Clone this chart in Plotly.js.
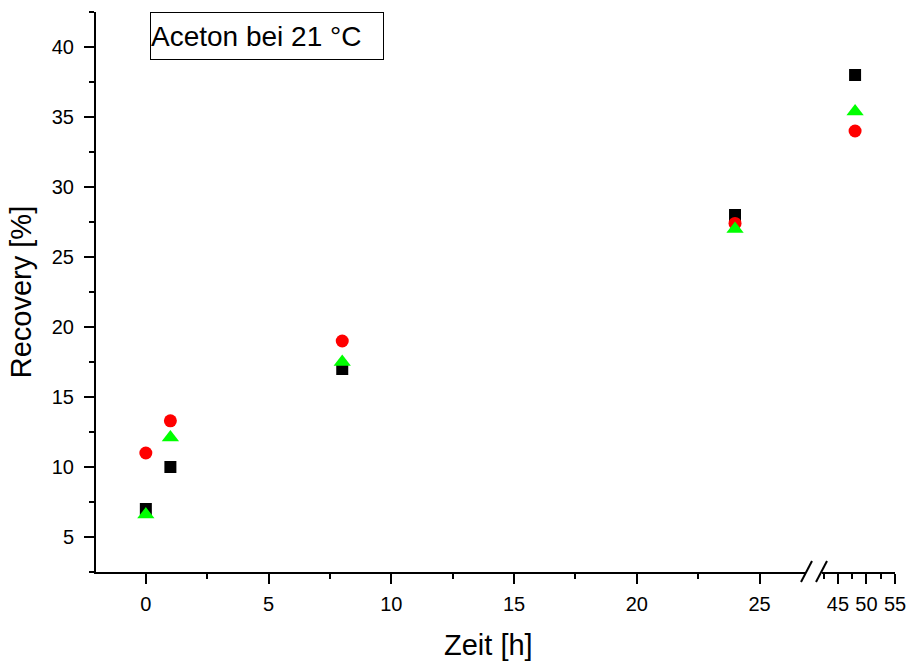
<!DOCTYPE html>
<html>
<head>
<meta charset="utf-8">
<script src="https://cdn.plot.ly/plotly-3.0.1.min.js"></script>
<style>html,body{margin:0;padding:0;background:#fff;}#chart{width:910px;height:662px;}</style>
</head>
<body>
<div id="chart"></div>
<script>
// Data
const timeH = [0, 1, 8, 24, 48];
const seriesBlack = [7.0, 10.0, 17.0, 28.0, 38.0];
const seriesRed = [11.0, 13.3, 19.0, 27.4, 34.0];
const seriesGreen = [6.6, 12.1, 17.5, 27.0, 35.4];
const xTicksLeft = [0, 5, 10, 15, 20, 25];
const xTicksRight = [45, 50, 55];
const yTicks = [5, 10, 15, 20, 25, 30, 35, 40];
const boxLabel = 'Aceton bei 21 °C';
const xTitle = 'Zeit [h]';
const yTitle = 'Recovery [%]';
const BREAK = 35;

const FONT = 'Arial, "Liberation Sans", sans-serif';
const series = [
  {y: seriesBlack, color: '#000000', symbol: 'square', size: 12},
  {y: seriesRed, color: '#ff0000', symbol: 'circle', size: 13},
  {y: seriesGreen, color: '#00ff00', symbol: 'triangle-up', size: 15}
];

const traces = [];
series.forEach(s => {
  const lx = [], ly = [], rx = [], ry = [];
  timeH.forEach((t, i) => {
    if (t < BREAK) { lx.push(t); ly.push(s.y[i]); } else { rx.push(t); ry.push(s.y[i]); }
  });
  const marker = {color: s.color, symbol: s.symbol, size: s.size, line: {width: 0}};
  traces.push({x: lx, y: ly, type: 'scatter', mode: 'markers', marker: marker, xaxis: 'x', yaxis: 'y', showlegend: false, cliponaxis: false});
  traces.push({x: rx, y: ry, type: 'scatter', mode: 'markers', marker: marker, xaxis: 'x2', yaxis: 'y', showlegend: false, cliponaxis: false});
});

const axisCommon = {
  showgrid: false, zeroline: false, showline: true, linecolor: '#000', linewidth: 2,
  ticks: 'outside', ticklen: 10, tickwidth: 2, tickcolor: '#000',
  tickfont: {family: FONT, size: 20, color: '#000'},
  fixedrange: true
};
const minorCommon = {dtick: 2.5, tick0: 0, ticks: 'outside', ticklen: 5, tickwidth: 2, tickcolor: '#000'};

const pl = 96, pr = 895, pt = 12, pb = 572;
const W = pr - pl, H = pb - pt;
const px = v => (v - pl) / W;
const py = v => (pb - v) / H;

const layout = {
  width: 910, height: 662,
  margin: {l: pl, r: 910 - pr, t: pt, b: 662 - pb},
  paper_bgcolor: '#fff', plot_bgcolor: '#fff',
  showlegend: false,
  font: {family: FONT, color: '#000'},
  xaxis: Object.assign({}, axisCommon, {
    domain: [0, px(805)], range: [-2.03, 26.85], anchor: 'y',
    tickmode: 'array', tickvals: xTicksLeft, ticktext: xTicksLeft.map(String),
    minor: minorCommon, ticklabelstandoff: 3
  }),
  xaxis2: Object.assign({}, axisCommon, {
    domain: [px(822), 1], range: [42.2, 55], anchor: 'y',
    tickmode: 'array', tickvals: xTicksRight, ticktext: xTicksRight.map(String),
    minor: minorCommon, ticklabelstandoff: 3
  }),
  yaxis: Object.assign({}, axisCommon, {
    range: [2.5, 42.5], anchor: 'x',
    tickmode: 'array', tickvals: yTicks, ticktext: yTicks.map(String),
    minor: minorCommon, ticklabelstandoff: 6,
    title: {text: yTitle, font: {family: FONT, size: 29, color: '#000'}, standoff: 12}
  }),
  annotations: [
    {xref: 'paper', yref: 'paper', x: px(150), y: 1, xanchor: 'left', yanchor: 'top',
     text: boxLabel, showarrow: false, align: 'left', valign: 'middle',
     font: {family: FONT, size: 28, color: '#000'},
     bordercolor: '#000', borderwidth: 1, borderpad: 0, width: 232, height: 46, bgcolor: '#fff'},
    {xref: 'paper', yref: 'paper', x: (488 - pl) / W, y: py(645), xanchor: 'center', yanchor: 'middle',
     text: xTitle, showarrow: false, font: {family: FONT, size: 29, color: '#000'}}
  ],
  shapes: [
    {type: 'line', xref: 'paper', yref: 'paper', x0: px(801), y0: py(582), x1: px(812), y1: py(561), line: {color: '#000', width: 2}},
    {type: 'line', xref: 'paper', yref: 'paper', x0: px(816), y0: py(582), x1: px(827), y1: py(561), line: {color: '#000', width: 2}}
  ]
};

Plotly.newPlot('chart', traces, layout, {staticPlot: true, displayModeBar: false});
</script>
</body>
</html>
